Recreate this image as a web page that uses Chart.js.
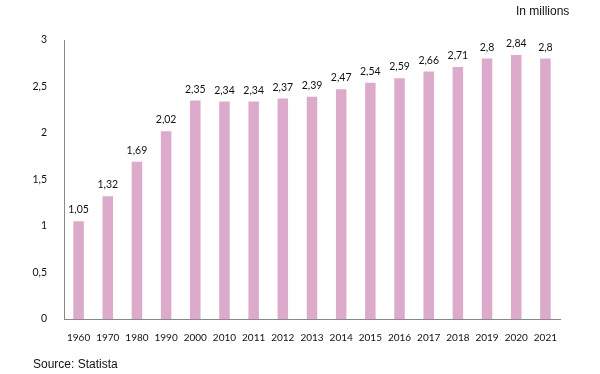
<!DOCTYPE html>
<html>
<head>
<meta charset="utf-8">
<script src="https://cdn.jsdelivr.net/npm/chart.js@4"></script>
<style>
  html, body { margin: 0; padding: 0; background: #fff; }
  #wrap { width: 600px; height: 374px; position: relative; }
</style>
</head>
<body>
<div id="wrap"><canvas id="myChart" width="600" height="374"></canvas></div>
<script>
const years = ["1960", "1970", "1980", "1990", "2000", "2010", "2011", "2012", "2013",
  "2014", "2015", "2016", "2017", "2018", "2019", "2020", "2021"];
const population = [1.05, 1.32, 1.69, 2.02, 2.35, 2.34, 2.34, 2.37, 2.39,
  2.47, 2.54, 2.59, 2.66, 2.71, 2.8, 2.84, 2.8];

const fmt = (v) => String(v).replace(".", ",");

// value labels above each bar + the two captions
const extraText = {
  id: "extraText",
  afterDatasetsDraw(chart) {
    const ctx = chart.ctx;
    const meta = chart.getDatasetMeta(0);
    ctx.save();
    ctx.fillStyle = "#111";
    ctx.font = "10.5px Lato";
    ctx.textAlign = "center";
    ctx.textBaseline = "bottom";
    meta.data.forEach((bar, i) => {
      ctx.fillText(fmt(population[i]), bar.x, bar.y - 6);
    });
    ctx.font = "12px 'Liberation Sans'";
    ctx.textAlign = "left";
    ctx.textBaseline = "middle";
    ctx.fillText("In millions", 516, 12);
    ctx.fillText("Source: Statista", 33, 365);
    ctx.restore();
  },
};

const data = {
  labels: years,
  datasets: [
    {
      data: population,
      backgroundColor: "#dcaacb",
      categoryPercentage: 1,
      barPercentage: 0.36,
    },
  ],
};

const config = {
  type: "bar",
  data: data,
  options: {
    responsive: false,
    animation: false,
    layout: { padding: { top: 40, right: 40, left: 0, bottom: 0 } },
    plugins: {
      legend: { display: false },
      tooltip: { enabled: false },
    },
    scales: {
      x: {
        grid: { display: false },
        border: { display: true, color: "#888" },
        ticks: { color: "#111", font: { family: "Lato", size: 10 }, padding: 5, maxRotation: 0, autoSkip: false },
        afterFit(scale) { scale.height = 55; },
      },
      y: {
        min: 0,
        max: 3,
        grid: { display: false },
        border: { display: true, color: "#888" },
        ticks: { stepSize: 0.5, color: "#111", font: { family: "Lato", size: 10.5 }, padding: 9, callback: (v) => fmt(v) },
        afterFit(scale) { scale.width = 64; },
      },
    },
  },
  plugins: [extraText],
};

var ctx = document.getElementById("myChart").getContext("2d");
var myChart = new Chart(ctx, config);
</script>
</body>
</html>
